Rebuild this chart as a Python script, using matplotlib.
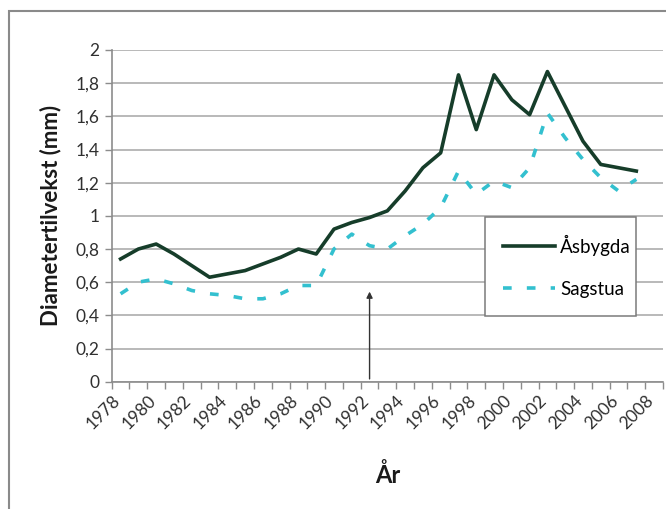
import numpy as np
import matplotlib.pyplot as plt
from matplotlib.patches import Rectangle
from matplotlib.transforms import ScaledTranslation

plt.rcParams['font.family'] = ['Lato', 'DejaVu Sans']

# Data
years = list(range(1978, 2008))
asbygda = [0.74, 0.80, 0.83, 0.77, 0.70, 0.63, 0.65, 0.67, 0.71, 0.75, 0.80, 0.77,
           0.92, 0.96, 0.99, 1.03, 1.15, 1.29, 1.38, 1.85, 1.52, 1.85, 1.70, 1.61,
           1.87, 1.66, 1.45, 1.31, 1.29, 1.27]
sagstua = [0.53, 0.60, 0.62, 0.59, 0.55, 0.53, 0.52, 0.50, 0.50, 0.53, 0.58, 0.58,
           0.80, 0.89, 0.82, 0.80, 0.88, 0.95, 1.05, 1.27, 1.13, 1.21, 1.17, 1.29,
           1.62, 1.47, 1.34, 1.23, 1.15, 1.22]
label_years = list(range(1978, 2009, 2))
y_ticks = [0, 0.2, 0.4, 0.6, 0.8, 1.0, 1.2, 1.4, 1.6, 1.8, 2.0]
arrow_year = 1992

W, H = 666, 509
fig = plt.figure(figsize=(W / 100, H / 100), dpi=100)
ax = fig.add_axes([111.7 / W, 1 - 381.7 / H, 551.3 / W, 331.7 / H])

grid_col = '#a6a6a6'
axis_col = '#8c8c8c'

ax.plot(years, asbygda, color='#163d2a', lw=2.6, label='Åsbygda', zorder=3)
ax.plot(years, sagstua, color='#33c0cf', lw=2.6, dashes=(2.4, 4.2),
        label='Sagstua', zorder=3)

ax.set_xlim(1977.5, 2008.5)
ax.set_ylim(0, 2)

# y axis
ax.set_yticks(y_ticks)
ax.set_yticklabels([('%g' % v).replace('.', ',') for v in y_ticks])
ax.yaxis.grid(True, color=grid_col, lw=1.1)
ax.set_axisbelow(True)
ax.tick_params(axis='y', direction='out', length=5, width=1, color=axis_col,
               labelsize=12.5, labelcolor='#303030', pad=4)

# x axis: ticks between categories, labels every second year
ax.set_xticks(label_years)
ax.set_xticks(np.arange(1977.5, 2009, 1), minor=True)
ax.tick_params(axis='x', which='major', length=0, labelsize=12.5,
               labelcolor='#303030', pad=12)
ax.tick_params(axis='x', which='minor', direction='out', length=5, width=1,
               color=axis_col)
ax.set_xticklabels([str(y) for y in label_years], rotation=45, ha='right',
                   va='center', rotation_mode='anchor')
shift = ScaledTranslation(-3 / 100, 0, fig.dpi_scale_trans)
for lbl in ax.get_xticklabels():
    lbl.set_transform(lbl.get_transform() + shift)

for s in ['top', 'right']:
    ax.spines[s].set_visible(False)
for s in ['left', 'bottom']:
    ax.spines[s].set_color(axis_col)
    ax.spines[s].set_linewidth(1.2)

ax.set_ylabel('Diametertilvekst (mm)', fontsize=16, fontweight='bold',
              color='#1a1a1a', labelpad=10)
ax.set_xlabel('År', fontsize=17, fontweight='bold', color='#1a1a1a', labelpad=22)

# arrow marking 1992
ax.annotate('', xy=(arrow_year, 0.56), xytext=(arrow_year, 0),
            arrowprops=dict(arrowstyle='-|>', color='#333333', lw=1,
                            mutation_scale=9), zorder=4)

leg = ax.legend(loc='upper left', bbox_to_anchor=(0.677, 0.4875, 0.274, 0.01),
                mode='expand', fontsize=13.5, frameon=True, fancybox=False,
                edgecolor='#7a7a7a', handlelength=2.8, handletextpad=0.25,
                labelspacing=1.35, borderpad=0.95, borderaxespad=0)
leg.get_frame().set_linewidth(1.1)
leg.get_frame().set_facecolor('white')
leg.get_frame().set_alpha(1)

# outer chart border (only top and left are inside the picture)
fig.add_artist(Rectangle((9 / W, -0.1), 2, 1.1 - 11 / H, transform=fig.transFigure,
                         fill=False, edgecolor='#8a8a8a', lw=1.5))

fig.savefig('out.png', dpi=100)
